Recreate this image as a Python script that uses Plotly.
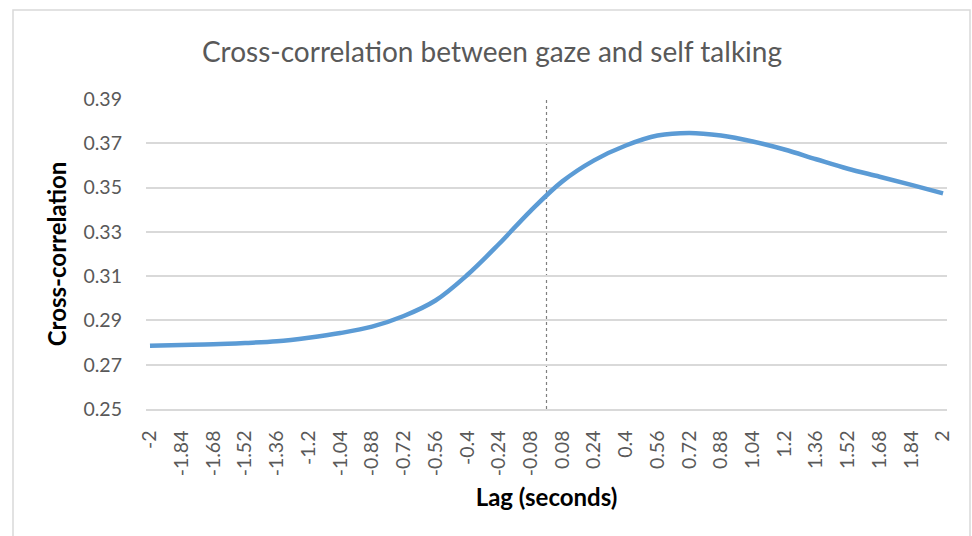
import plotly.graph_objects as go

# Data
lags = [-2, -1.84, -1.68, -1.52, -1.36, -1.2, -1.04, -0.88, -0.72, -0.56, -0.4, -0.24, -0.08,
        0.08, 0.24, 0.4, 0.56, 0.72, 0.88, 1.04, 1.2, 1.36, 1.52, 1.68, 1.84, 2]
xcorr = [0.2786, 0.2789, 0.2792, 0.2798, 0.2806, 0.2822, 0.2843, 0.2872, 0.2920, 0.2990, 0.3105,
         0.3245, 0.3395, 0.3528, 0.3623, 0.3690, 0.3735, 0.3747, 0.3735, 0.3708, 0.3672, 0.3628,
         0.3585, 0.3549, 0.3512, 0.3474]
tick_labels = ["-2", "-1.84", "-1.68", "-1.52", "-1.36", "-1.2", "-1.04", "-0.88", "-0.72", "-0.56",
               "-0.4", "-0.24", "-0.08", "0.08", "0.24", "0.4", "0.56", "0.72", "0.88", "1.04",
               "1.2", "1.36", "1.52", "1.68", "1.84", "2"]
y_ticks = [0.25, 0.27, 0.29, 0.31, 0.33, 0.35, 0.37, 0.39]
zero_lag = 0

FONT = "Lato"
GREY = "#595959"
GRID = "#d9d9d9"

fig = go.Figure()
fig.add_trace(go.Scatter(
    x=lags, y=xcorr, mode="lines",
    line=dict(color="#5b9bd5", width=4.5, shape="spline", smoothing=1.0),
    showlegend=False, hoverinfo="x+y",
))

# dotted vertical line at zero lag
fig.add_shape(type="line", xref="x", yref="y", x0=zero_lag, x1=zero_lag, y0=0.25, y1=0.39,
              line=dict(color="#7f7f7f", width=1.2, dash="dot"), layer="below")

# outer chart frame
fig.add_shape(type="rect", xref="paper", yref="paper",
              x0=(13 - 146) / 801, x1=(970 - 146) / 801,
              y0=(409 - 560) / 310, y1=(409 - 10) / 310,
              line=dict(color=GRID, width=1.5), fillcolor="rgba(0,0,0,0)", layer="below")

fig.update_layout(
    width=972, height=536,
    margin=dict(l=146, r=25, t=99, b=127),
    paper_bgcolor="white", plot_bgcolor="white",
    font=dict(family=FONT, color=GREY, size=19.5),
    title=dict(text="Cross-correlation between gaze and self talking",
               font=dict(family=FONT, size=28, color=GREY),
               x=492 / 972, xref="container", xanchor="center",
               y=1 - 52 / 536, yref="container", yanchor="middle"),
    xaxis=dict(
        range=[-2.02, 2.02], tickmode="array", tickvals=lags, ticktext=tick_labels,
        tickangle=-90, showgrid=False, zeroline=False,
        showline=True, linecolor=GRID, linewidth=1.5,
        ticks="", ticklabelstandoff=12,
        tickfont=dict(family=FONT, size=19.5, color=GREY),
        title=dict(text="<b>Lag (seconds)</b>", font=dict(family=FONT, size=24, color="black"),
                   standoff=14),
        fixedrange=True,
    ),
    yaxis=dict(
        range=[0.25, 0.39], tickmode="array", tickvals=y_ticks,
        ticktext=[f"{v:.2f}" for v in y_ticks],
        showgrid=True, gridcolor=GRID, gridwidth=1.5, zeroline=False,
        showline=False, ticks="", ticklabelstandoff=23,
        tickfont=dict(family=FONT, size=19.5, color=GREY),
        title=dict(text="<b>Cross-correlation</b>", font=dict(family=FONT, size=24, color="black"),
                   standoff=10),
        fixedrange=True,
    ),
)

fig.write_html("out.html", config={"displayModeBar": False},
               post_script="document.body.style.margin='0px';")
